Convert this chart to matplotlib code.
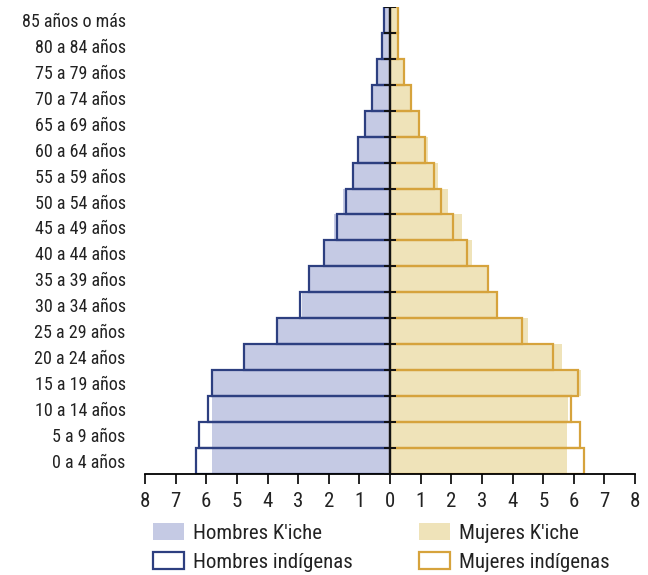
import matplotlib.pyplot as plt
import numpy as np
from matplotlib import font_manager
from matplotlib.patches import Patch

# buscar una fuente estrecha si existe
disponibles = set(f.name for f in font_manager.fontManager.ttflist)
estrecha = None
for nombre in ['Roboto Condensed', 'Liberation Sans Narrow', 'DejaVu Sans Condensed',
               'Open Sans Condensed']:
    if nombre in disponibles:
        estrecha = nombre
        break
if estrecha is None:
    estrecha = 'Roboto'
    escala = 0.86
else:
    escala = 1.0
plt.rcParams['font.family'] = [estrecha, 'DejaVu Sans']

grupos = ['0 a 4 años', '5 a 9 años', '10 a 14 años', '15 a 19 años', '20 a 24 años',
          '25 a 29 años', '30 a 34 años', '35 a 39 años', '40 a 44 años', '45 a 49 años',
          '50 a 54 años', '55 a 59 años', '60 a 64 años', '65 a 69 años', '70 a 74 años',
          '75 a 79 años', '80 a 84 años', '85 años o más']

# porcentajes de la poblacion
hombres_kiche = [5.8, 5.8, 5.82, 5.8, 4.75, 3.68, 2.87, 2.66, 2.14, 1.83,
                 1.55, 1.22, 1.05, 0.86, 0.59, 0.42, 0.25, 0.19]
hombres_indig = [6.33, 6.23, 5.93, 5.82, 4.78, 3.68, 2.93, 2.66, 2.14, 1.73,
                 1.45, 1.22, 1.05, 0.82, 0.59, 0.42, 0.25, 0.19]
mujeres_kiche = [5.79, 5.79, 5.81, 6.25, 5.62, 4.52, 3.54, 3.23, 2.68, 2.35,
                 1.89, 1.58, 1.25, 0.99, 0.68, 0.45, 0.3, 0.3]
mujeres_indig = [6.32, 6.2, 5.9, 6.14, 5.33, 4.3, 3.5, 3.21, 2.52, 2.07,
                 1.66, 1.43, 1.15, 0.96, 0.68, 0.45, 0.27, 0.27]

azul_rel = '#c5cae4'
azul_borde = '#2d3f80'
ocre_rel = '#efe3b9'
ocre_borde = '#d6a33c'

fig = plt.figure(figsize=(6.48, 5.75), dpi=100)
ax = fig.add_axes([0.2238, 0.1757, 0.7562, 0.8123])

y = np.arange(len(grupos))
ax.barh(y, -np.array(hombres_kiche), height=1, color=azul_rel, zorder=1)
ax.barh(y, mujeres_kiche, height=1, color=ocre_rel, zorder=1)
ax.barh(y, -np.array(hombres_indig), height=1, facecolor='none', edgecolor=azul_borde,
        linewidth=1.6, zorder=2)
ax.barh(y, mujeres_indig, height=1, facecolor='none', edgecolor=ocre_borde,
        linewidth=1.6, zorder=2)

ax.axvline(0, color='#111111', linewidth=1.6, zorder=3)
bordes = np.arange(len(grupos) + 1) - 0.5
ax.plot(np.zeros(len(bordes)), bordes, ls='none', marker='_', markersize=9,
        markeredgewidth=1.4, color='#111111', zorder=4)

ax.set_xlim(-8, 8)
ax.set_ylim(-0.5, len(grupos) - 0.5)
ax.set_xticks(range(-8, 9))
ax.set_xticklabels([str(abs(v)) for v in range(-8, 9)], fontsize=15 * escala, color='#222222')
ax.set_yticks(y)
ax.set_yticklabels(grupos, fontsize=13 * escala, color='#222222')
ax.tick_params(axis='y', length=0, pad=14)
ax.tick_params(axis='x', length=7, width=1.2, direction='out', pad=6)
for s in ['top', 'right', 'left']:
    ax.spines[s].set_visible(False)
ax.spines['bottom'].set_linewidth(1.3)

handles = [Patch(facecolor=azul_rel, edgecolor='none'),
           Patch(facecolor='white', edgecolor=azul_borde, linewidth=1.6),
           Patch(facecolor=ocre_rel, edgecolor='none'),
           Patch(facecolor='white', edgecolor=ocre_borde, linewidth=1.6)]
labels = ["Hombres K'iche", 'Hombres indígenas', "Mujeres K'iche", 'Mujeres indígenas']
fs = 15 * escala
fig.legend(handles, labels, ncol=2, loc='upper left', bbox_to_anchor=(0.22, 0.108),
           frameon=False, fontsize=fs, handlelength=31 / (fs * 1.389),
           handleheight=18 / (fs * 1.389), handletextpad=0.45,
           columnspacing=66 / (fs * 1.389), labelspacing=0.45, borderpad=0,
           labelcolor='#222222')

fig.savefig('out.png', dpi=100)
